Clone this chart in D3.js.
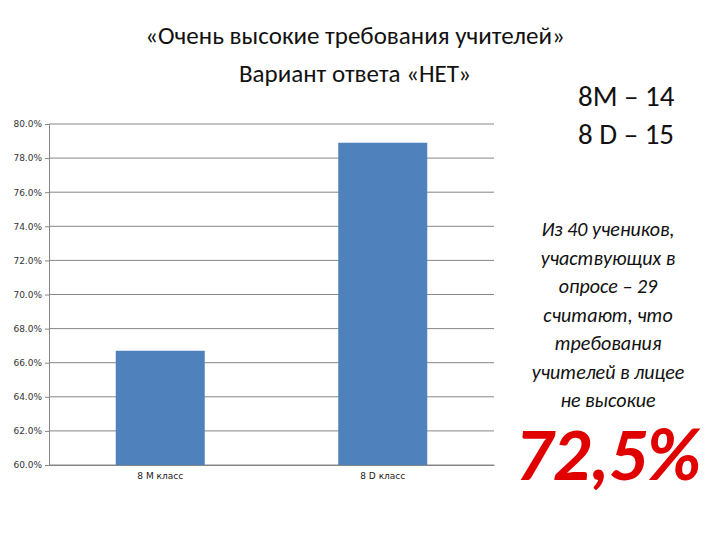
<!DOCTYPE html>
<html>
<head>
<meta charset="utf-8">
<script src="https://cdn.jsdelivr.net/npm/d3@7"></script>
<style>body{margin:0;background:#fff;}</style>
</head>
<body>
<div id="chart"></div>
<script>
var categories = ["8 M класс", "8 D класс"];
var values = [0.667, 0.789];
var yTicks = [0.60, 0.62, 0.64, 0.66, 0.68, 0.70, 0.72, 0.74, 0.76, 0.78, 0.80];
var titleLines = ["«Очень высокие требования учителей»", "Вариант ответа «НЕТ»"];
var countLines = ["8M – 14", "8 D – 15"];
var noteLines = ["Из 40 учеников,", "участвующих в", "опросе – 29", "считают, что", "требования", "учителей в лицее", "не высокие"];
var bigValue = "72,5%";

var svg = d3.select("#chart").append("svg")
    .attr("width", 720).attr("height", 540)
    .style("font-family", "Calibri, Carlito, 'Liberation Sans', sans-serif");

var plotLeft = 49, plotRight = 494, plotTop = 124, plotBottom = 465;

var x = d3.scaleBand().domain(categories).range([plotLeft, plotRight]).paddingInner(0.6).paddingOuter(0.3);
var y = d3.scaleLinear().domain([0.6, 0.8]).range([plotBottom, plotTop]);

// gridlines
svg.append("g").selectAll("line").data(yTicks).enter().append("line")
    .attr("x1", plotLeft).attr("x2", plotRight)
    .attr("y1", function (d) { return y(d); }).attr("y2", function (d) { return y(d); })
    .style("stroke", "#868686").style("stroke-width", 1);

var yAxis = svg.append("g").attr("transform", "translate(" + plotLeft + ",0)")
    .call(d3.axisLeft(y).tickValues(yTicks).tickFormat(d3.format(".1%")).tickSize(4));
yAxis.selectAll("text").style("font-size", "9px").style("fill", "#333").style("font-family", "'DejaVu Sans', sans-serif");
yAxis.selectAll("line, path").style("stroke", "#868686");

var xAxis = svg.append("g").attr("transform", "translate(0," + plotBottom + ")")
    .call(d3.axisBottom(x).tickSize(0).tickPadding(8));
xAxis.selectAll("text").style("font-size", "9px").style("fill", "#222").style("font-family", "'DejaVu Sans', sans-serif");
xAxis.select("path").style("stroke", "#868686");

svg.selectAll(".bar").data(values).enter().append("rect")
    .attr("class", "bar")
    .attr("x", function (d, i) { return x(categories[i]); })
    .attr("y", function (d) { return y(d); })
    .attr("width", x.bandwidth())
    .attr("height", function (d) { return plotBottom - y(d); })
    .style("fill", "#4f81bd");

svg.selectAll(".title").data(titleLines).enter().append("text")
    .attr("x", 355).attr("y", function (d, i) { return 44 + i * 38; })
    .attr("text-anchor", "middle").style("font-size", "25px").style("fill", "#111")
    .text(function (d) { return d; });

svg.selectAll(".count").data(countLines).enter().append("text")
    .attr("x", 578).attr("y", function (d, i) { return 106 + i * 38; })
    .style("font-size", "29px").style("fill", "#111")
    .text(function (d) { return d; });

svg.selectAll(".note").data(noteLines).enter().append("text")
    .attr("x", 608).attr("y", function (d, i) { return 236 + i * 28.5; })
    .attr("text-anchor", "middle").style("font-size", "20px").style("font-style", "italic").style("fill", "#111")
    .text(function (d) { return d; });

svg.append("text").attr("x", 608).attr("y", 480)
    .attr("text-anchor", "middle").style("font-size", "74px").style("font-style", "italic")
    .style("font-weight", "bold").style("fill", "#e00000")
    .text(bigValue);
</script>
</body>
</html>
